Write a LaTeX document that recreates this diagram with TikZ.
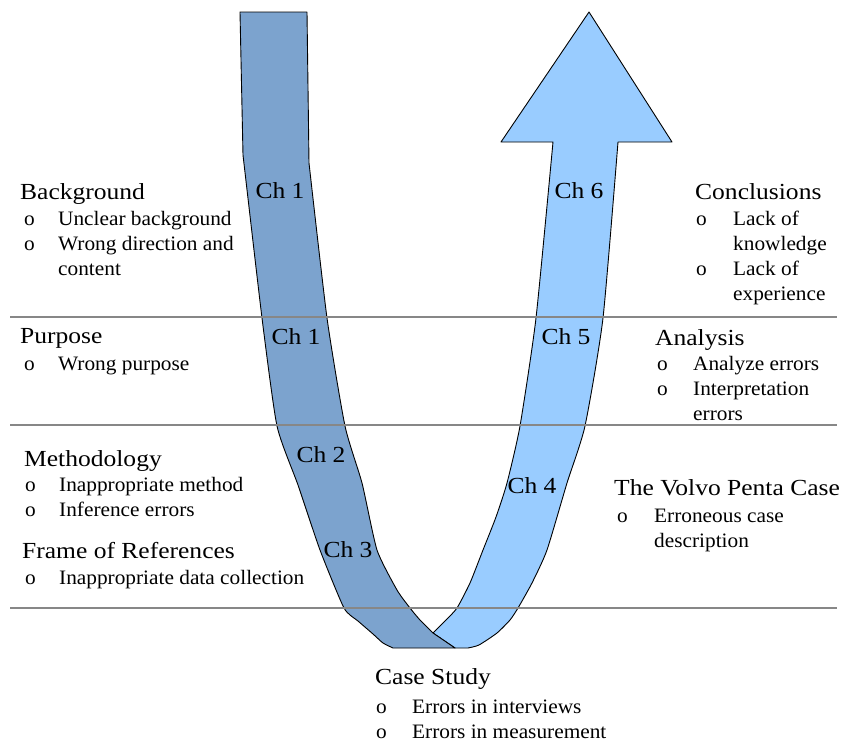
\documentclass[tikz,border=0pt]{standalone}
\usepackage{fontspec}
\setmainfont{Liberation Serif}
\newfontfamily\headfont{Liberation Serif}[FakeStretch=1.11]
\newfontfamily\itemfont{Liberation Serif}[FakeStretch=1.04]
\definecolor{bandDark}{RGB}{124,163,206}
\definecolor{bandLight}{RGB}{153,204,255}
\definecolor{ruleGrey}{RGB}{135,135,135}
\tikzset{
  band/.style={draw=black, line width=0.9pt, line join=round},
  heading/.style={anchor=base west, inner sep=0pt, font=\headfont\fontsize{23}{27}\selectfont},
  items/.style={anchor=base west, inner sep=0pt, font=\itemfont\fontsize{20.5}{25}\selectfont},
  chap/.style={inner sep=0pt, font=\headfont\fontsize{23}{27}\selectfont},
  divider/.style={draw=ruleGrey, line width=1.3pt},
}
% bullet lists: small "o" marker in a fixed-width column
\newcommand{\blist}[2]{\begin{tabular}[t]{@{}p{#1}@{}l@{}}#2\end{tabular}}
\begin{document}
\begin{tikzpicture}[x=1pt, y=-1pt]
\useasboundingbox (0,0) rectangle (847,742);

% rising band (light) with arrow head
\path[band, fill=bandLight]
  (433,633) -- plot[smooth, tension=0.35] coordinates {(433,633) (446,620) (457,608) (470,583) (483,550) (496,517) (507,483) (520,426) (536,318) (553,142)}
  -- (501,142) -- (589,12) -- (672,142) -- (618,142)
  -- plot[smooth, tension=0.35] coordinates {(618,142) (603,318) (585,426) (567,483) (547,550) (532,583) (518,608) (510,620) (497,633) (479,645) (468,648)}
  -- (455,648) -- cycle;

% descending band (dark)
\path[band, fill=bandDark]
  (240,12) -- (243,155) -- plot[smooth, tension=0.35] coordinates {(243,155) (262,318) (277,426) (298,485) (320,550) (344,608) (358,621) (373,634) (383,643) (393,648)}
  -- (455,648) -- (433,633)
  -- plot[smooth, tension=0.35] coordinates {(433,633) (420,620) (410,608) (397,590) (377,550) (362,483) (345,426) (327,318) (309,163)}
  -- (307,12) -- cycle;

% section dividers
\coordinate (d1a) at (10,317); \coordinate (d1b) at (837,317);
\coordinate (d2a) at (10,425); \coordinate (d2b) at (837,425);
\coordinate (d3a) at (10,608); \coordinate (d3b) at (837,608);
\draw[divider] (d1a) -- (d1b);
\draw[divider] (d2a) -- (d2b);
\draw[divider] (d3a) -- (d3b);

% chapter labels
\node[chap] (ch1a) at (280,191) {Ch 1};
\node[chap] (ch1b) at (296,337) {Ch 1};
\node[chap] (ch2) at (321,455) {Ch 2};
\node[chap] (ch3) at (348,550) {Ch 3};
\node[chap] (ch4) at (532,486) {Ch 4};
\node[chap] (ch5) at (566,337) {Ch 5};
\node[chap] (ch6) at (579,191) {Ch 6};

% left column
\node[heading] (bg) at (20,199) {Background};
\node[items] (bgl) at (24,225) {\blist{34pt}{o & Unclear background\\ o & Wrong direction and\\ & content}};
\node[heading] (pu) at (20,343) {Purpose};
\node[items] (pul) at (24,370) {\blist{34pt}{o & Wrong purpose}};
\node[heading] (me) at (24,466) {Methodology};
\node[items] (mel) at (25,491) {\blist{34pt}{o & Inappropriate method\\ o & Inference errors}};
\node[heading] (fr) at (22,558) {Frame of References};
\node[items] (frl) at (25,584) {\blist{34pt}{o & Inappropriate data collection}};

% right column
\node[heading] (co) at (695,199) {Conclusions};
\node[items] (col) at (696,225) {\blist{37pt}{o & Lack of\\ & knowledge\\ o & Lack of\\ & experience}};
\node[heading] (an) at (655,345) {Analysis};
\node[items] (anl) at (657,370) {\blist{36pt}{o & Analyze errors\\ o & Interpretation\\ & errors}};
\node[heading] (vp) at (614,495) {The Volvo Penta Case};
\node[items] (vpl) at (617,522) {\blist{37pt}{o & Erroneous case\\ & description}};

% bottom
\node[heading] (cs) at (375,684) {Case Study};
\node[items] (csl) at (376,713) {\blist{36pt}{o & Errors in interviews\\ o & Errors in measurement}};
\end{tikzpicture}
\end{document}
